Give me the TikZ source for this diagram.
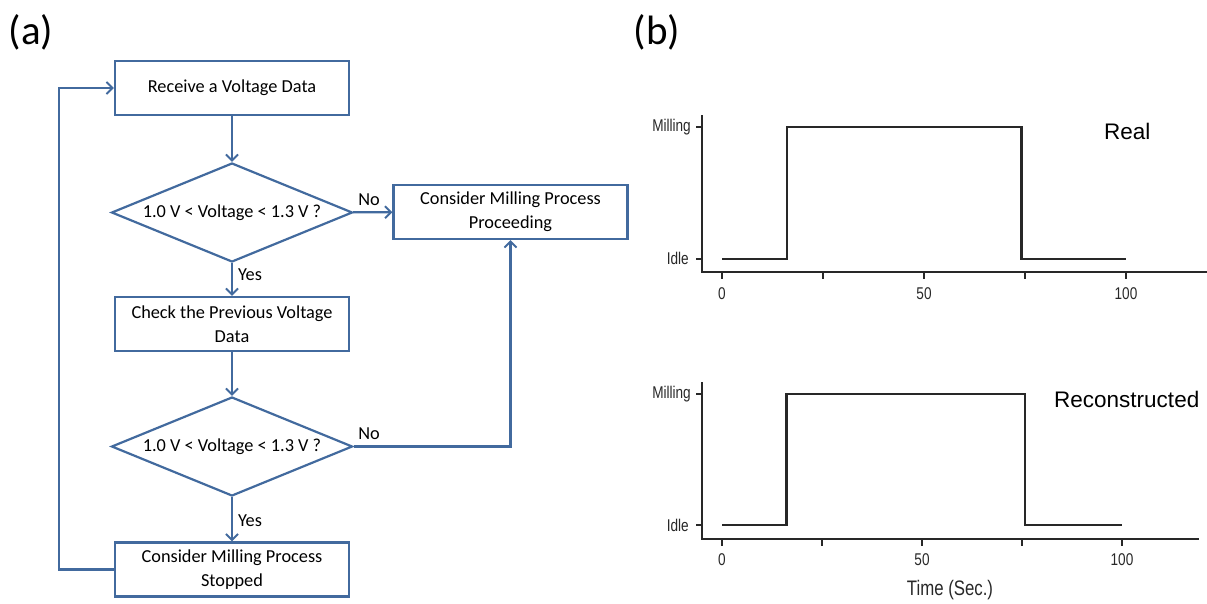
\documentclass[tikz,border=0pt]{standalone}
\usepackage{fontspec}
\setmainfont{Carlito}
\newfontfamily\plotfont{Liberation Sans}
\newfontfamily\ticksfont[FakeStretch=0.8]{Liberation Sans}
\usetikzlibrary{shapes.geometric,arrows.meta}
\definecolor{flowblue}{RGB}{66,106,158}
\definecolor{plotgray}{RGB}{40,40,40}
\tikzset{
  stepbox/.style={draw=flowblue,line width=2.2pt,rectangle,minimum width=234pt,minimum height=54pt,
    inner sep=0pt,align=center,font=\fontsize{18.3}{24}\selectfont},
  testbox/.style={draw=flowblue,line width=2.2pt,diamond,aspect=2.43,minimum width=241pt,minimum height=99pt,
    inner sep=0pt,align=center,font=\fontsize{18.3}{24}\selectfont},
  flowarr/.style={draw=flowblue,line width=2.2pt,-{Straight Barb[length=6pt,width=12pt,line width=2pt]}},
  flowlbl/.style={font=\fontsize{18.3}{24}\selectfont,inner sep=0pt},
  panel/.style={font=\fontsize{41}{48}\selectfont,inner sep=0pt},
  axisline/.style={draw=plotgray,line width=1.8pt},
  signal/.style={draw=plotgray,line width=2.4pt,line join=miter},
  ticklbl/.style={font=\ticksfont\fontsize{17}{20}\selectfont,text=plotgray,inner sep=0pt},
  levellbl/.style={font=\ticksfont\fontsize{17}{20}\selectfont,text=plotgray,inner sep=0pt,anchor=east},
  tracelbl/.style={font=\plotfont\fontsize{22.5}{26}\selectfont,inner sep=0pt,anchor=west},
}
\begin{document}
\begin{tikzpicture}[x=1pt,y=-1pt]
\useasboundingbox (0,0) rectangle (1207,603);

% panel labels
\node[panel] (pa) at (31,32) {(a)};
\node[panel] (pb) at (657,32) {(b)};

% ---------- flowchart ----------
\node[stepbox] (b1) at (232,88) {Receive a Voltage Data};
\node[testbox] (d1) at (232,212.5) {1.0 V {<} Voltage {<} 1.3 V ?};
\node[stepbox] (b2) at (510.5,212) {Consider Milling Process\\Proceeding};
\node[stepbox] (b3) at (232,324) {Check the Previous Voltage\\Data};
\node[testbox] (d2) at (232,446.5) {1.0 V {<} Voltage {<} 1.3 V ?};
\node[stepbox] (b4) at (232,569.5) {Consider Milling Process\\Stopped};

\draw[flowarr] (b1) -- (d1);
\draw[flowarr] (d1) -- (b2);
\draw[flowarr] (d1) -- (b3);
\draw[flowarr] (b3) -- (d2);
\draw[flowarr] (d2.east) -| (b2.south);
\draw[flowarr] (d2) -- (b4);
\coordinate (loop) at (59,569.5);
\draw[flowarr] (b4.west) -- (loop) |- (b1.west);

\node[flowlbl] (no1) at (369,200) {No};
\node[flowlbl] (yes1) at (250,275) {Yes};
\node[flowlbl] (no2) at (369,434) {No};
\node[flowlbl] (yes2) at (250,521) {Yes};

% ---------- upper trace ----------
\draw[axisline] (702,115) -- (702,272) -- (1207,272);
\foreach \t in {0,25,50,75,100} {
  \draw[axisline] ({722+4.04*\t},272) -- ({722+4.04*\t},279);
}
\draw[axisline] (696,127) -- (702,127);
\draw[axisline] (696,259) -- (702,259);
\node[levellbl] (tmill) at (691,127) {Milling};
\node[levellbl] (tidle) at (689,258) {Idle};
\node[ticklbl] (tx0) at (722,294) {0};
\node[ticklbl] (tx50) at (924,294) {50};
\node[ticklbl] (tx100) at (1126,294) {100};
\draw[signal] (722,259) -- (787,259) -- (787,127) -- (1021.5,127) -- (1021.5,259) -- (1126,259);
\node[tracelbl] (treal) at (1104,131) {Real};

% ---------- lower trace ----------
\draw[axisline] (702,382) -- (702,539) -- (1199,539);
\foreach \t in {0,25,50,75,100} {
  \draw[axisline] ({722+4.0*\t},539) -- ({722+4.0*\t},546);
}
\draw[axisline] (696,394) -- (702,394);
\draw[axisline] (696,525) -- (702,525);
\node[levellbl] (bmill) at (691,394) {Milling};
\node[levellbl] (bidle) at (689,525) {Idle};
\node[ticklbl] (bx0) at (722,560) {0};
\node[ticklbl] (bx50) at (922,560) {50};
\node[ticklbl] (bx100) at (1122,560) {100};
\draw[signal] (722,525) -- (786.5,525) -- (786.5,394) -- (1025,394) -- (1025,525) -- (1122,525);
\node[tracelbl] (brec) at (1054,399) {Reconstructed};
\node[font=\ticksfont\fontsize{21}{24}\selectfont,text=plotgray,inner sep=0pt] (btime) at (950,590) {Time (Sec.)};
\end{tikzpicture}
\end{document}
